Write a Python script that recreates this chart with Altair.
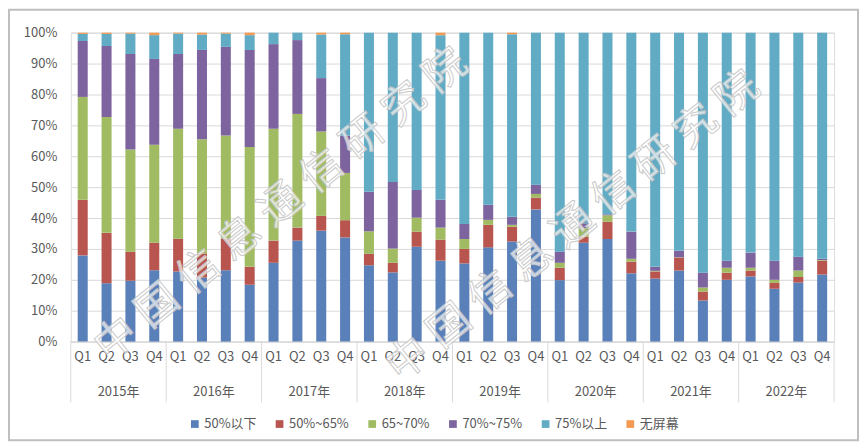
import altair as alt
import pandas as pd

years = ["2015年", "2016年", "2017年", "2018年", "2019年", "2020年", "2021年", "2022年"]
quarters = ["Q1", "Q2", "Q3", "Q4"]
series = ["50%以下", "50%~65%", "65~70%", "70%~75%", "75%以上", "无屏幕"]
colors = ["#5A80BA", "#B8554F", "#A0BB62", "#7E649F", "#62ABC5", "#F39A52"]

below_50 = [27.9, 18.9, 19.7, 23.1, 22.7, 20.8, 23.1, 18.4,
            25.5, 32.7, 35.9, 33.7, 24.7, 22.4, 30.7, 26.2,
            25.3, 30.5, 32.4, 42.8, 19.9, 32.0, 33.2, 22.1,
            20.4, 23.0, 13.3, 20.0, 21.1, 17.1, 19.1, 21.7]
p50_65 = [18.0, 16.3, 9.4, 8.9, 10.6, 7.8, 10.2, 5.8,
          7.2, 4.2, 4.8, 5.6, 3.7, 3.1, 4.9, 6.8,
          4.7, 7.3, 4.8, 3.8, 4.0, 2.0, 5.6, 3.8,
          2.3, 4.2, 2.9, 2.3, 1.9, 1.9, 1.8, 4.5]
p65_70 = [33.3, 37.5, 33.1, 31.7, 35.6, 37.1, 33.4, 38.8,
          36.2, 36.8, 27.3, 15.3, 7.3, 4.6, 4.5, 3.9,
          3.2, 1.6, 0.6, 1.2, 1.6, 2.7, 2.1, 0.9,
          0.2, 0.1, 1.3, 1.6, 0.9, 1.0, 2.1, 0.2]
p70_75 = [18.1, 23.0, 30.9, 27.8, 24.2, 29.0, 28.7, 31.4,
          27.4, 23.9, 17.3, 12.0, 12.8, 21.6, 9.0, 9.0,
          4.9, 4.9, 2.6, 3.0, 3.6, 1.6, 0.3, 8.8,
          1.3, 2.1, 4.8, 2.3, 4.9, 6.2, 4.5, 0.4]
above_75 = [2.3, 3.9, 6.6, 7.7, 6.6, 5.0, 4.3, 4.8,
            3.7, 2.4, 14.1, 32.9, 51.5, 48.3, 50.9, 53.3,
            61.9, 55.7, 59.1, 49.2, 70.9, 61.7, 58.8, 64.4,
            75.8, 70.6, 77.7, 73.8, 71.2, 73.8, 72.5, 73.2]
no_screen = [0.4, 0.4, 0.3, 0.8, 0.3, 0.6, 0.3, 0.8,
             0.0, 0.0, 0.6, 0.5, 0.0, 0.0, 0.0, 0.8,
             0.0, 0.0, 0.5, 0.0, 0.0, 0.0, 0.0, 0.0,
             0.0, 0.0, 0.0, 0.0, 0.0, 0.0, 0.0, 0.0]

values = [below_50, p50_65, p65_70, p70_75, above_75, no_screen]
keys = [f"{y}|{q}" for y in years for q in quarters]

rows = []
for si, s in enumerate(series):
    for i, k in enumerate(keys):
        rows.append({"key": k, "series": s, "value": values[si][i], "idx": si})
df = pd.DataFrame(rows)

FONT = "Noto Sans CJK SC"
TXT = "#595959"
GRID = "#D9D9D9"
W, H = 766, 310
HALF = W / 32 / 2

xscale = alt.Scale(paddingInner=0.58, paddingOuter=0.29)

bars = alt.Chart(df).mark_bar().encode(
    x=alt.X("key:N", sort=keys, scale=xscale,
            axis=alt.Axis(title=None, labelExpr="split(datum.label,'|')[1]", labelAngle=0,
                          ticks=False, domainColor=GRID, labelPadding=9, labelFontSize=13,
                          labelColor=TXT, labelFont=FONT, grid=False)),
    y=alt.Y("value:Q", stack="normalize", scale=alt.Scale(domain=[0, 1]),
            axis=alt.Axis(title=None, format=".0%", values=[i / 10 for i in range(11)],
                          domain=False, ticks=False, gridColor=GRID, labelFontSize=13,
                          labelColor=TXT, labelFont=FONT, labelPadding=14)),
    color=alt.Color("series:N", sort=series, scale=alt.Scale(domain=series, range=colors),
                    legend=alt.Legend(title=None, orient="none", legendX=118, legendY=386,
                                      direction="horizontal", symbolType="square",
                                      symbolSize=60, symbolStrokeWidth=0, labelFontSize=13,
                                      labelColor=TXT, labelFont=FONT, columnPadding=16,
                                      labelOffset=3, padding=0)),
    order=alt.Order("idx:Q", sort="ascending"),
)

year_df = pd.DataFrame({"key": [f"{y}|Q2" for y in years], "year": years})
year_labels = alt.Chart(year_df).mark_text(
    dx=HALF, fontSize=13, font=FONT, color=TXT, baseline="middle", align="center"
).encode(x=alt.X("key:N", sort=keys, scale=xscale), y=alt.value(361), text="year:N")

sep_df = pd.DataFrame({"key": [f"{y}|Q1" for y in years]})
seps = alt.Chart(sep_df).mark_rule(xOffset=-HALF, color=GRID, strokeWidth=1).encode(
    x=alt.X("key:N", sort=keys, scale=xscale), y=alt.value(H), y2=alt.value(H + 61))
end_df = pd.DataFrame({"key": [keys[-1]]})
sep_end = alt.Chart(end_df).mark_rule(xOffset=HALF, color=GRID, strokeWidth=1).encode(
    x=alt.X("key:N", sort=keys, scale=xscale), y=alt.value(H), y2=alt.value(H + 61))

border = alt.Chart(pd.DataFrame({"a": [0]})).mark_rect(
    fill="transparent", stroke="#BFBFBF", strokeWidth=2
).encode(x=alt.value(-62), x2=alt.value(790), y=alt.value(-23), y2=alt.value(409))

# watermark: characters laid out along two diagonal lines
wm_text = "中国信息通信研究院"
wm_lines = [((46, 308), (376, 38)), ((339, 328), (669, 61))]
wm_rows = []
for (x0, y0), (x1, y1) in wm_lines:
    n = len(wm_text)
    for j, ch in enumerate(wm_text):
        t = j / (n - 1)
        wm_rows.append({"ch": ch, "px": x0 + (x1 - x0) * t, "py": y0 + (y1 - y0) * t})
wm_df = pd.DataFrame(wm_rows)
watermark = alt.Chart(wm_df).mark_text(
    fontSize=42, font=FONT, angle=321, align="center", baseline="middle",
    fill="white", fillOpacity=0.7, stroke="#C4C4C4", strokeWidth=1, strokeOpacity=0.9
).encode(x=alt.X("px:Q", scale=None), y=alt.Y("py:Q", scale=None), text="ch:N")

chart = alt.layer(border, bars, seps, sep_end, year_labels, watermark).properties(
    width=W, height=H,
    autosize=alt.AutoSizeParams(type="none"),
    padding={"left": 63, "top": 24, "right": 25, "bottom": 100},
).configure_view(stroke=None).configure(background="white")

chart.save("out.html", embed_options={"renderer": "svg", "actions": False})
